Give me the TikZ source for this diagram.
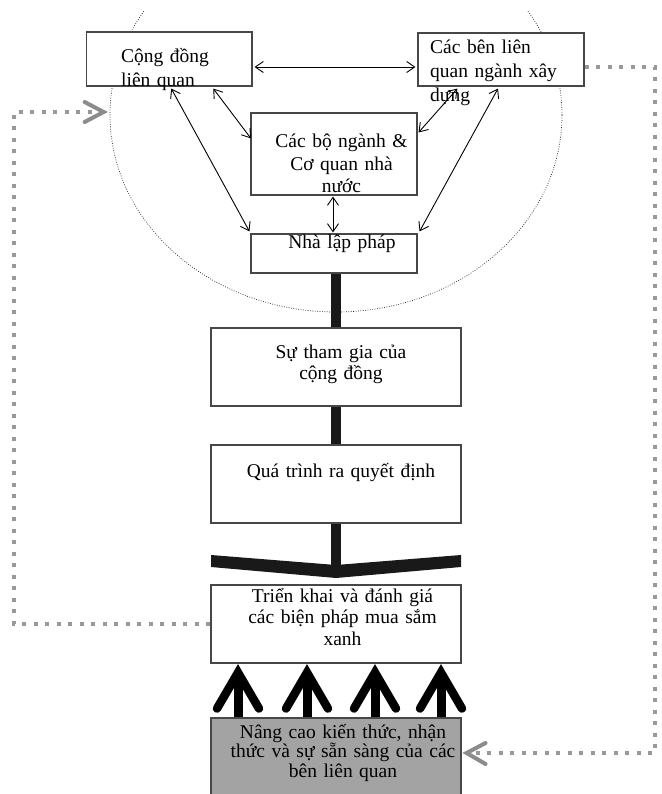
\documentclass[tikz,border=0pt]{standalone}
\usepackage{fontspec}
\setmainfont{Liberation Serif}
\usetikzlibrary{arrows.meta,shapes.geometric,calc}
\begin{document}
\begin{tikzpicture}[x=1pt,y=-1pt,
  box/.style={draw=black!72, line width=1.1pt, fill=white, inner sep=0pt, rectangle},
  txt/.style={inner sep=0pt, font=\fontsize{19.5}{21.5}\selectfont, text width=250pt, align=center, anchor=base},
  txtl/.style={inner sep=0pt, font=\fontsize{19.5}{24}\selectfont, text width=160pt, align=left, anchor=base west},
  thinarrow/.style={draw=black, line width=0.9pt, {Straight Barb[length=8pt,width=11pt]}-{Straight Barb[length=8pt,width=11pt]}},
  thickbar/.style={line width=10pt, draw=black!90},
  upshaft/.style={line width=9pt, draw=black},
  upbarb/.style={line width=8.5pt, draw=black, line cap=round, line join=miter},
  feedback/.style={draw=black!40, line width=4pt, dash pattern=on 4pt off 7.5pt},
  fbhead/.style={draw=black!45, line width=4pt, line cap=round, line join=miter},
  ringstyle/.style={ellipse, draw=black!85, line width=0.7pt, dash pattern=on 0.8pt off 1.6pt, minimum width=452pt, minimum height=394pt, inner sep=0pt},
]
\useasboundingbox (0,0) rectangle (661,794);

% dotted ring behind the upper group
\begin{scope}
  \clip (0,12) rectangle (661,794);
  \node[ringstyle] (ring) at (336,115) {};
\end{scope}

% boxes
\node[box, minimum width=165.5pt, minimum height=54pt] (cd) at (169.25,59) {};
\node[box, minimum width=166pt, minimum height=53pt] (cb) at (501,59.5) {};
\node[box, minimum width=166pt, minimum height=82pt] (bn) at (334,154) {};
\node[box, minimum width=166pt, minimum height=39pt] (nlp) at (334,253.5) {};
\node[box, minimum width=250pt, minimum height=78pt] (stg) at (336,367) {};
\node[box, minimum width=250pt, minimum height=78pt] (qt) at (336,484) {};
\node[box, minimum width=250pt, minimum height=78pt] (tk) at (336,624) {};
\node[box, fill=black!36, minimum width=250pt, minimum height=84pt] (nc) at (336,760) {};

% thin two-way connectors
\draw[thinarrow] ([xshift=2pt,yshift=-8pt]cd.east) -- ([xshift=-2pt,yshift=-7.5pt]cb.west);
\draw[thinarrow] ([xshift=44pt,yshift=-2pt]cd.south) -- ([xshift=0.5pt,yshift=-26pt]bn.north west);
\draw[thinarrow] ([xshift=2pt,yshift=-2pt]cd.south) -- ([xshift=-1pt,yshift=2pt]nlp.north west);
\draw[thinarrow] ([xshift=40pt,yshift=-2pt]cb.south west) -- ([xshift=1pt,yshift=-20pt]bn.north east);
\draw[thinarrow] ([xshift=-3pt,yshift=-2pt]cb.south) -- ([xshift=2pt,yshift=2pt]nlp.north east);
\draw[thinarrow] ([xshift=-1pt,yshift=-1pt]bn.south) -- ([xshift=-1pt,yshift=1pt]nlp.north);

% thick vertical flow
\draw[thickbar] (nlp.south -| stg.north) -- (stg.north);
\draw[thickbar] (stg.south) -- (qt.north);
\coordinate (chev) at (336,567);
\draw[thickbar] (qt.south) -- (chev);
\fill[black!90] (211,555) -- (336,565) -- (461,555) -- (461,567) -- (336,578) -- (211,567) -- cycle;

% four upward arrows
\foreach \dx in {-98,-29,39,105} {
  \draw[upshaft] ([xshift=\dx pt]nc.north) -- ([xshift=\dx pt,yshift=-12pt]tk.south);
  \draw[upbarb] ([xshift=\dx pt-21pt,yshift=-45pt]tk.south) -- ([xshift=\dx pt,yshift=-9pt]tk.south) -- ([xshift=\dx pt+21pt,yshift=-45pt]tk.south);
}

% feedback loops (grey dotted)
\coordinate (r1) at (655,67);
\coordinate (r2) at (655,753);
\coordinate (rt) at ($(nc.east |- r2)+(5,0)$);
\draw[feedback] ([yshift=-7.5pt]cb.east) -- (r1) -- (r2) -- (rt);
\draw[fbhead] ($(rt)+(19,-10)$) -- (rt) -- ($(rt)+(19,11)$);

\coordinate (lt) at ($(ring.west)+(-6,-3)$);
\coordinate (l1) at (14,624);
\coordinate (l2) at (l1 |- lt);
\draw[feedback] (tk.west) -- (l1) -- (l2) -- (lt);
\draw[fbhead] ($(lt)+(-19,-10)$) -- (lt) -- ($(lt)+(-19,10)$);

% texts
\node[txtl] (tcd) at (121,63) {Cộng đồng\\liên quan};
\node[txtl] (tcb) at (430,54) {Các bên liên\\quan ngành xây\\dựng};
\node[txt, font=\fontsize{19.5}{22.5}\selectfont] (tbn) at (341.5,148) {Các bộ ngành \&\\Cơ quan nhà\\nước};
\node[txt] (tnlp) at (342,248) {Nhà lập pháp};
\node[txt] (tstg) at (341,358) {Sự tham gia của\\cộng đồng};
\node[txt] (tqt) at (341,477) {Quá trình ra quyết định};
\node[txt] (ttk) at (342.5,602) {Triển khai và đánh giá\\các biện pháp mua sắm\\xanh};
\node[txt, font=\fontsize{19.5}{19.5}\selectfont] (tnc) at (343,738) {Nâng cao kiến thức, nhận\\thức và sự sẵn sàng của các\\bên liên quan};
\end{tikzpicture}
\end{document}
